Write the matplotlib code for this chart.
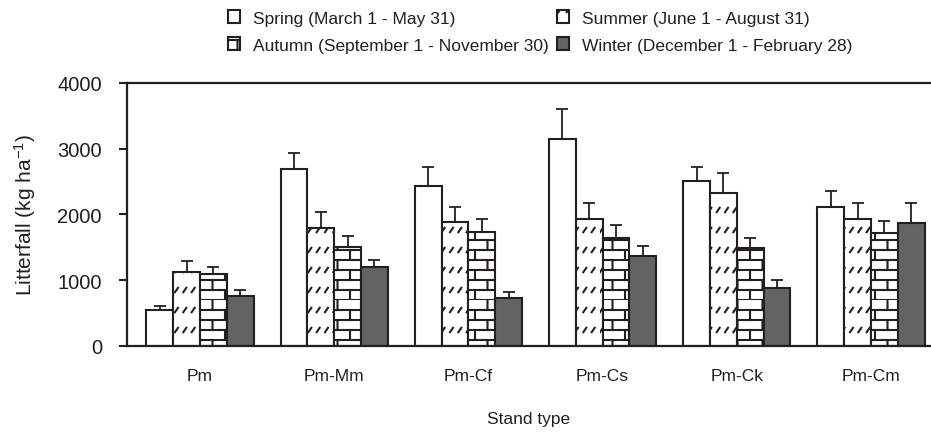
import numpy as np
import matplotlib
matplotlib.use('Agg')
import matplotlib.pyplot as plt
import matplotlib.hatch as mhatch
from matplotlib.path import Path
from matplotlib.patches import Patch

# data
groups = ['Pm', 'Pm-Mm', 'Pm-Cf', 'Pm-Cs', 'Pm-Ck', 'Pm-Cm']
spring = [550, 2690, 2440, 3150, 2505, 2110]
spring_err = [60, 250, 275, 455, 215, 240]
summer = [1130, 1800, 1890, 1930, 2320, 1930]
summer_err = [170, 245, 230, 240, 305, 240]
autumn = [1100, 1500, 1740, 1650, 1495, 1715]
autumn_err = [95, 175, 190, 190, 155, 180]
winter = [765, 1195, 735, 1375, 885, 1865]
winter_err = [85, 110, 90, 150, 120, 305]
season_labels = ['Spring (March 1 - May 31)', 'Summer (June 1 - August 31)',
                 'Autumn (September 1 - November 30)', 'Winter (December 1 - February 28)']


# custom hatches: '/' -> short dashes, '+' -> brick wall
class DashHatch(mhatch.HatchPatternBase):
    def __init__(self, hatch, density):
        self.rows, self.cols = 5, 12
        self.num_vertices = self.rows * self.cols * 2 if '/' in hatch else 0

    def set_vertices_and_codes(self, vertices, codes):
        k = 0
        for i in range(self.rows):
            y = (i + 0.5) / self.rows
            for j in range(self.cols):
                x = j / self.cols
                vertices[k] = (x, y - 0.022)
                vertices[k + 1] = (x + 0.03, y + 0.022)
                codes[k] = Path.MOVETO
                codes[k + 1] = Path.LINETO
                k += 2


class BrickHatch(mhatch.HatchPatternBase):
    def __init__(self, hatch, density):
        self.rows, self.cols = 10, 4
        self.num_vertices = (self.rows * 2 + self.rows * self.cols * 2) if '+' in hatch else 0

    def set_vertices_and_codes(self, vertices, codes):
        k = 0
        for i in range(self.rows):
            y0 = i / self.rows
            y1 = (i + 1) / self.rows
            vertices[k] = (0, y0)
            vertices[k + 1] = (1, y0)
            codes[k] = Path.MOVETO
            codes[k + 1] = Path.LINETO
            k += 2
            for j in range(self.cols):
                x = (j + 0.5 * (i % 2)) / self.cols
                vertices[k] = (x, y0)
                vertices[k + 1] = (x, y1)
                codes[k] = Path.MOVETO
                codes[k + 1] = Path.LINETO
                k += 2


mhatch._hatch_types = [DashHatch, BrickHatch]

plt.rcParams['font.family'] = ['Liberation Sans', 'DejaVu Sans']
plt.rcParams['mathtext.default'] = 'regular'
plt.rcParams['hatch.linewidth'] = 1.5

ink = '#231f20'
fills = ['white', 'white', 'white', '#636363']
hatches = [None, '/', '+', None]
values = [spring, summer, autumn, winter]
errors = [spring_err, summer_err, autumn_err, winter_err]

fig = plt.figure(figsize=(9.31, 4.35), dpi=100)
ax = fig.add_axes([0.1364, 0.2023, 0.8636, 0.6046])

x = np.arange(len(groups))
w = 0.2
offsets = [-1.5 * w, -0.5 * w, 0.5 * w, 1.5 * w]

for vals, errs, fc, h, off in zip(values, errors, fills, hatches, offsets):
    ax.bar(x + off, vals, w, color=fc, edgecolor=ink, linewidth=1.5, hatch=h, zorder=2)
    ax.errorbar(x + off, vals, yerr=[np.zeros(len(errs)), errs], fmt='none',
                ecolor=ink, elinewidth=1.3, capsize=4.6, capthick=1.3, zorder=3)

ax.set_xlim(-0.544, 5.447)
ax.set_ylim(0, 4000)
ax.set_yticks([0, 1000, 2000, 3000, 4000])
ax.set_xticks(x)
ax.set_xticklabels(groups)
ax.tick_params(axis='y', direction='out', length=6, width=1.5, color=ink,
               labelsize=14.5, labelcolor=ink, pad=12)
ax.tick_params(axis='x', length=0, labelsize=12.5, labelcolor=ink, pad=16)
for side in ['left', 'top', 'bottom']:
    ax.spines[side].set_linewidth(1.6)
    ax.spines[side].set_color(ink)
ax.spines['right'].set_visible(False)

ax.set_ylabel('Litterfall (kg ha$^{-1}$)', fontsize=15, color=ink, labelpad=14)
ax.set_xlabel('Stand type', fontsize=12.5, color=ink, labelpad=20)

# legend filled row by row: Spring, Summer / Autumn, Winter
handles = [Patch(facecolor=fc, edgecolor=ink, linewidth=1.5, hatch=h)
           for fc, h in zip(fills, hatches)]
order = [0, 2, 1, 3]
fig.legend([handles[i] for i in order], [season_labels[i] for i in order],
           loc='upper left', bbox_to_anchor=(0.228, 1.01),
           ncol=2, frameon=False, fontsize=12.5, handlelength=0.72, handleheight=0.72,
           handletextpad=0.75, columnspacing=0.45, labelspacing=0.68, labelcolor=ink)

plt.savefig('out.png', dpi=100)
